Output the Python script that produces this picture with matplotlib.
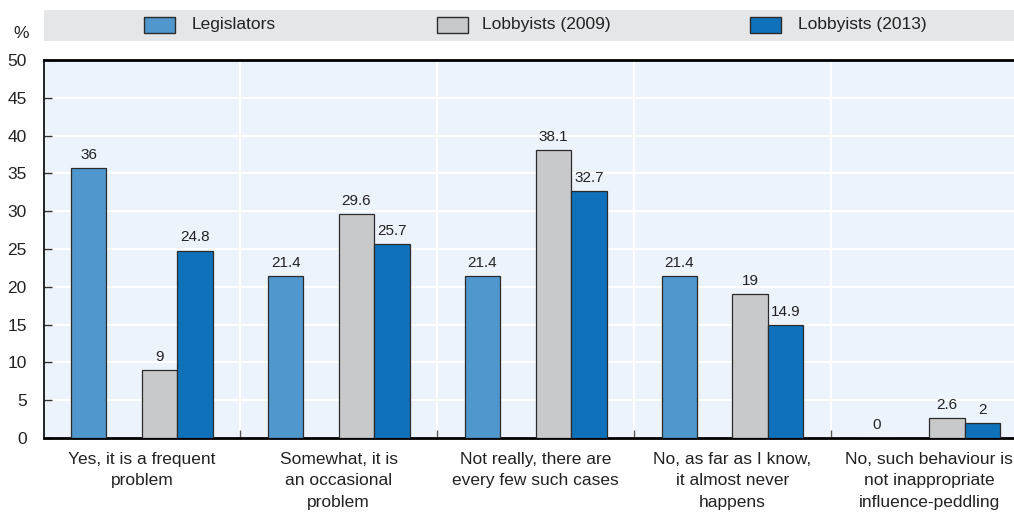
import matplotlib
matplotlib.use("Agg")
import matplotlib.pyplot as plt
from matplotlib.patches import Rectangle
import numpy as np

plt.rcParams['font.family'] = ['Liberation Sans', 'DejaVu Sans']

categories = ["Yes, it is a frequent\nproblem",
              "Somewhat, it is\nan occasional\nproblem",
              "Not really, there are\nevery few such cases",
              "No, as far as I know,\nit almost never\nhappens",
              "No, such behaviour is\nnot inappropriate\ninfluence-peddling"]
series_names = ["Legislators", "Lobbyists (2009)", "Lobbyists (2013)"]
legislators = [35.7, 21.4, 21.4, 21.4, 0]
lobby2009 = [9, 29.6, 38.1, 19, 2.6]
lobby2013 = [24.8, 25.7, 32.7, 14.9, 2]
labels_leg = ["36", "21.4", "21.4", "21.4", "0"]
labels_09 = ["9", "29.6", "38.1", "19", "2.6"]
labels_13 = ["24.8", "25.7", "32.7", "14.9", "2"]
yticks = [0, 5, 10, 15, 20, 25, 30, 35, 40, 45, 50]

colors = ["#4f97cc", "#c8c9cb", "#0f71b9"]
W, H = 1014, 515
fig = plt.figure(figsize=(W / 100, H / 100), dpi=100)
ax = fig.add_axes([43.5 / W, (H - 438) / H, (W - 43.5) / W, (438 - 60) / H])
ax.set_facecolor("#ecf3fa")

x = np.arange(len(categories))
bw = 0.18
offsets = [-1.5 * bw, 0.5 * bw, 1.5 * bw]
series = [legislators, lobby2009, lobby2013]
labs = [labels_leg, labels_09, labels_13]
for vals, off, col, lab in zip(series, offsets, colors, labs):
    bars = ax.bar(x + off, vals, width=bw, color=col, edgecolor="#2b2b2b",
                  linewidth=0.9, zorder=3)
    for b, t, v in zip(bars, lab, vals):
        ax.text(b.get_x() + b.get_width() / 2, v + 0.8, t, ha="center",
                va="bottom", fontsize=11, color="#222222", zorder=4)

ax.set_xlim(-0.5, 4.43)
ax.set_ylim(0, 50)
ax.set_yticks(yticks)
ax.set_yticklabels([str(t) for t in yticks], fontsize=12.5, color="#222222")
ax.set_xticks(x)
ax.set_xticklabels(categories, fontsize=12.5, color="#222222", linespacing=1.55)
ax.set_xticks(np.arange(0.5, 4.5, 1), minor=True)
ax.tick_params(axis="x", which="major", length=0, pad=10)
ax.tick_params(axis="x", which="minor", direction="in", length=6, width=1, color="#555555")
ax.tick_params(axis="y", direction="in", length=6, width=1, color="#333333", pad=12)
ax.grid(axis="y", color="white", linewidth=1.5, zorder=1)
ax.grid(axis="x", which="minor", color="white", linewidth=1.5, zorder=1)
ax.set_axisbelow(True)
ax.spines["right"].set_visible(False)
ax.spines["top"].set_linewidth(2)
ax.spines["bottom"].set_linewidth(2)
ax.spines["left"].set_linewidth(1.2)

# legend band
fig.patches.append(Rectangle((44 / W, (H - 41) / H), (W - 44) / W, 31 / H,
                             transform=fig.transFigure, facecolor="#e5e6e7",
                             edgecolor="none", zorder=0))
patch_x = [144, 437, 750]
text_x = [192, 482, 798]
for px, tx, name, col in zip(patch_x, text_x, series_names, colors):
    fig.patches.append(Rectangle((px / W, (H - 33) / H), 31 / W, 16 / H,
                                 transform=fig.transFigure, facecolor=col,
                                 edgecolor="#2b2b2b", linewidth=1, zorder=2))
    fig.text(tx / W, (H - 25) / H, name, ha="left", va="center", fontsize=12.5,
             color="#222222")
fig.text(21 / W, (H - 34) / H, "%", ha="center", va="center", fontsize=12.5,
         color="#222222")

fig.savefig("out.png", dpi=100)
